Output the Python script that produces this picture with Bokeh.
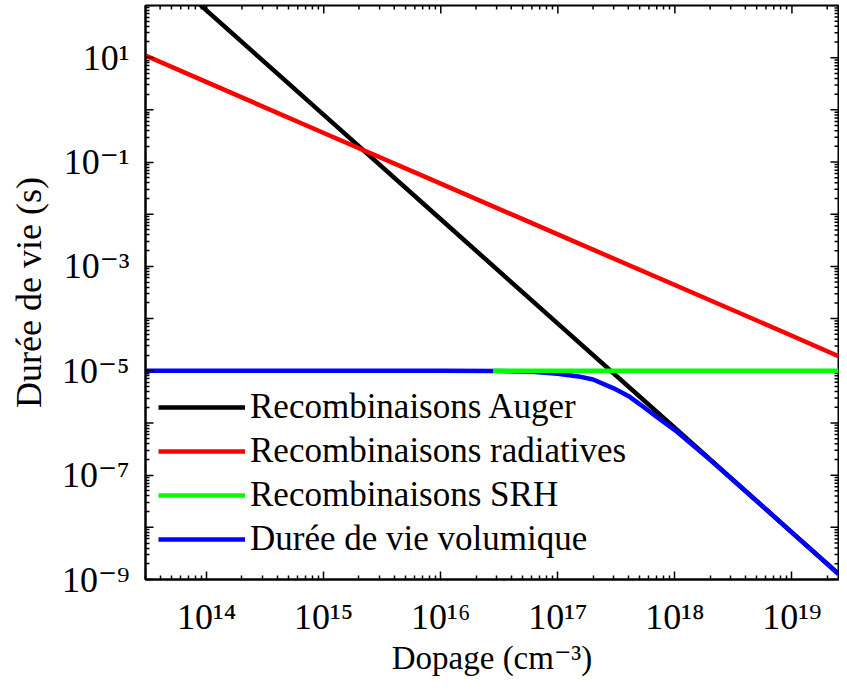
import math
from bokeh.plotting import figure
from bokeh.models import FixedTicker, CustomJSTickFormatter, Legend, LegendItem
from bokeh.embed import file_html
from bokeh.resources import INLINE

# ---- data ----
auger_N = [3e13, 1e14, 1e15, 1e16, 1e17, 1e18, 1e19, 2.5e19]
auger_tau = [890, 80, 0.8, 8e-3, 8e-5, 8e-7, 8e-9, 1.28e-9]

rad_N = [3e13, 1e14, 1e15, 1e16, 1e17, 1e18, 1e19, 2.5e19]
rad_tau = [11, 3.4, 0.36, 0.0385, 4.1e-3, 4.4e-4, 4.7e-5, 1.9e-5]

srh_N = [2.8e16, 1e17, 1e18, 1e19, 2.5e19]
srh_tau = [1e-5, 1e-5, 1e-5, 1e-5, 1e-5]

bulk_N = [3e13, 1e14, 1e15, 1e16, 3e16, 6e16, 1e17, 1.5e17, 2e17, 3e17, 4e17,
          5e17, 7e17, 1e18, 2e18, 5e18, 1e19, 2.5e19]
bulk_tau = [1e-5, 1e-5, 1e-5, 1e-5, 9.95e-6, 9.6e-6, 8.8e-6, 7.8e-6, 6.8e-6, 4.6e-6,
            3.3e-6, 2.3e-6, 1.3e-6, 7.3e-7, 1.96e-7, 3.19e-8, 7.9e-9, 1.27e-9]

series_labels = ["Recombinaisons Auger", "Recombinaisons radiatives",
                 "Recombinaisons SRH", "Durée de vie volumique"]

x_min, x_max = 3e13, 2.5e19
y_min, y_max = 1e-9, 1e2

x_tick_vals = [1e14, 1e15, 1e16, 1e17, 1e18, 1e19]
x_tick_labels = ["10¹⁴", "10¹⁵", "10¹⁶", "10¹⁷", "10¹⁸", "10¹⁹"]
y_label_vals = [1e-9, 1e-7, 1e-5, 1e-3, 1e-1, 1e1]
y_tick_labels = ["10⁻⁹", "10⁻⁷", "10⁻⁵", "10⁻³", "10⁻¹", "10¹"]
y_decades = [1e-9, 1e-8, 1e-7, 1e-6, 1e-5, 1e-4, 1e-3, 1e-2, 1e-1, 1e0, 1e1, 1e2]
y_unlabeled = [1e-8, 1e-6, 1e-4, 1e-2, 1e0, 1e2]

x_label = "Dopage (cm⁻³)"
y_label = "Durée de vie (s)"

FONT = "'Liberation Serif', 'Times New Roman', 'DejaVu Serif', serif"

p = figure(width=839, height=678, x_axis_type="log", y_axis_type="log",
           x_range=(x_min, x_max), y_range=(y_min, y_max),
           output_backend="svg", toolbar_location=None,
           min_border_left=145, min_border_right=1, min_border_top=5,
           min_border_bottom=97)
p.background_fill_color = "white"
p.border_fill_color = "white"
p.outline_line_color = "black"
p.outline_line_width = 2
p.xgrid.visible = False
p.ygrid.visible = False


def minor_of(majors, lo, hi):
    out = []
    for m in majors:
        for k in range(2, 10):
            v = m * k
            if lo <= v <= hi:
                out.append(v)
    return out


x_minors = minor_of([1e13] + x_tick_vals, x_min, x_max)
y_minors = minor_of(y_decades, y_min, y_max)

xt = FixedTicker(ticks=x_tick_vals, minor_ticks=x_minors)
yt = FixedTicker(ticks=y_label_vals, minor_ticks=y_minors)

code = """
const i = vals.findIndex(v => Math.abs(Math.log10(v) - Math.log10(tick)) < 1e-6);
return i >= 0 ? labs[i] : "";
"""
xf = CustomJSTickFormatter(args=dict(vals=x_tick_vals, labs=x_tick_labels), code=code)
yf = CustomJSTickFormatter(args=dict(vals=y_label_vals, labs=y_tick_labels), code=code)


def style_axis(ax):
    ax.axis_line_color = "black"
    ax.axis_line_width = 2
    ax.major_tick_in = 8
    ax.major_tick_out = 0
    ax.minor_tick_in = 4
    ax.minor_tick_out = 0
    ax.major_tick_line_color = "black"
    ax.minor_tick_line_color = "black"
    ax.major_tick_line_width = 1.5
    ax.minor_tick_line_width = 1.5
    ax.major_label_text_font = FONT
    ax.major_label_text_color = "black"
    ax.axis_label_text_font = FONT
    ax.axis_label_text_font_style = "normal"
    ax.axis_label_text_color = "black"


xa = p.xaxis[0]
ya = p.yaxis[0]
xa.ticker = xt
ya.ticker = yt
xa.formatter = xf
ya.formatter = yf
style_axis(xa)
style_axis(ya)
xa.major_label_text_font_size = "36px"
ya.major_label_text_font_size = "36px"
xa.major_label_standoff = 17
ya.major_label_standoff = 16
xa.axis_label = x_label
ya.axis_label = y_label
xa.axis_label_text_font_size = "33px"
ya.axis_label_text_font_size = "36px"
xa.axis_label_standoff = 0
ya.axis_label_standoff = 10

# inward tick marks on the top and right frame edges, and the unlabeled
# decade ticks on the left edge
tick_kw = dict(length_units="screen", line_color="black", line_width=1.5)
p.ray(x=[x_min] * len(y_unlabeled), y=y_unlabeled, length=8, angle=0, **tick_kw)
p.ray(x=x_tick_vals, y=[y_max] * len(x_tick_vals), length=8, angle=-math.pi / 2, **tick_kw)
p.ray(x=x_minors, y=[y_max] * len(x_minors), length=4, angle=-math.pi / 2, **tick_kw)
p.ray(x=[x_max] * len(y_decades), y=y_decades, length=8, angle=math.pi, **tick_kw)
p.ray(x=[x_max] * len(y_minors), y=y_minors, length=4, angle=math.pi, **tick_kw)

r_black = p.line(auger_N, auger_tau, line_color="#000000", line_width=4.5)
r_blue = p.line(bulk_N, bulk_tau, line_color="#0000ff", line_width=4.5)
r_green = p.line(srh_N, srh_tau, line_color="#00ff00", line_width=4.5)
r_red = p.line(rad_N, rad_tau, line_color="#ff0000", line_width=4.5)

legend = Legend(items=[
    LegendItem(label=series_labels[0], renderers=[r_black]),
    LegendItem(label=series_labels[1], renderers=[r_red]),
    LegendItem(label=series_labels[2], renderers=[r_green]),
    LegendItem(label=series_labels[3], renderers=[r_blue]),
], location=(13, 20))
legend.padding = 0
legend.margin = 0
legend.spacing = 4
legend.glyph_width = 87
legend.glyph_height = 40
legend.label_height = 40
legend.label_standoff = 5
legend.label_text_font = FONT
legend.label_text_font_size = "35px"
legend.label_text_color = "black"
legend.background_fill_alpha = 0
legend.border_line_alpha = 0
p.add_layout(legend, "center")

open("out.html", "w").write(file_html(p, INLINE))
